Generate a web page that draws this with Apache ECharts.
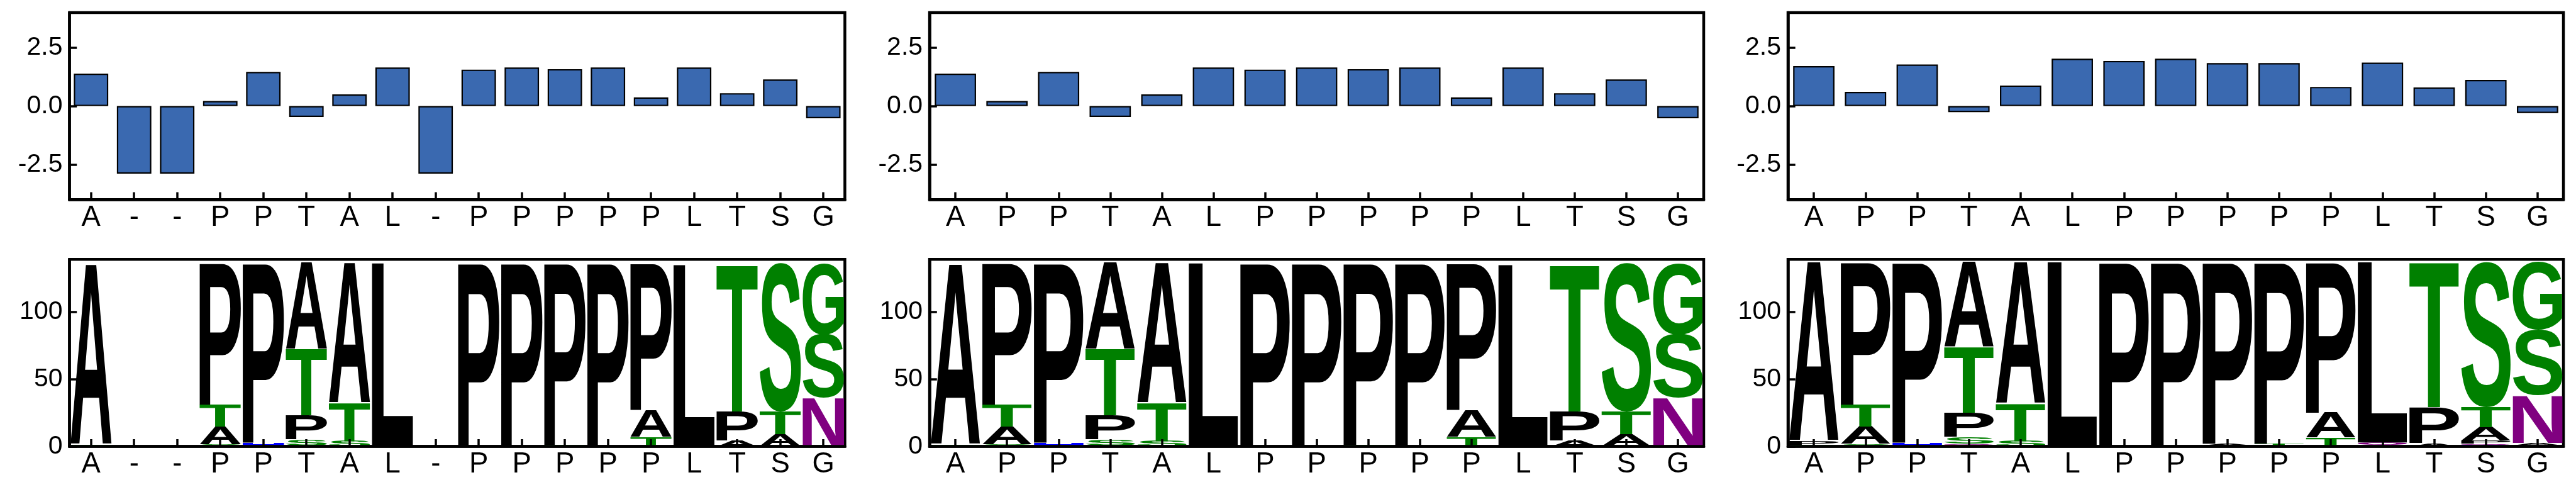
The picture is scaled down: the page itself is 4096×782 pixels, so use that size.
<!DOCTYPE html>
<html><head><meta charset="utf-8">
<script src="https://cdn.jsdelivr.net/npm/echarts@6/dist/echarts.min.js"></script>
<style>html,body{margin:0;padding:0;background:#fff}#c{width:4096px;height:782px}</style>
</head><body><div id="c"></div>
<script>
// ---------------- data ----------------
const catsLeft  = ['A','-','-','P','P','T','A','L','-','P','P','P','P','P','L','T','S','G'];
const catsMid   = ['A','P','P','T','A','L','P','P','P','P','P','L','T','S','G'];
const catsRight = ['A','P','P','T','A','L','P','P','P','P','P','L','T','S','G'];

const barsLeft  = [1.39,-2.89,-2.89,0.22,1.46,-0.47,0.50,1.65,-2.89,1.56,1.65,1.58,1.65,0.37,1.65,0.55,1.14,-0.52];
const barsMid   = [1.39,0.22,1.46,-0.47,0.50,1.65,1.56,1.65,1.58,1.65,0.37,1.65,0.55,1.14,-0.52];
const barsRight = [1.71,0.61,1.78,-0.26,0.88,2.03,1.93,2.03,1.84,1.84,0.82,1.86,0.80,1.12,-0.30];

const barTickValues  = [-2.5, 0, 2.5];
const logoTickValues = [0, 50, 100];

// logo columns: stacks from bottom to top, [letter, height]
const logoLeft = [
  [['T',1.3],['A',133.8]],
  [],
  [],
  [['S',1.5],['A',13.2],['T',16.3],['P',105.5]],
  [['H',2.8],['P',133.7]],
  [['Q',0.8],['S',4.4],['P',17.8],['T',49.2],['A',64.3]],
  [['S',4.0],['T',28.2],['A',104.3]],
  [['V',0.7],['L',135.6]],
  [],
  [['P',136.5]],
  [['P',136.5]],
  [['T',1.2],['P',135.3]],
  [['P',136.5]],
  [['T',7.1],['A',20.0],['P',109.4]],
  [['L',135.1]],
  [['A',4.5],['P',21.5],['T',109.1]],
  [['A',9.1],['T',16.9],['S',110.5]],
  [['N',36.0],['S',47.3],['G',53.2]]
];
const logoMid = [
  [['T',1.3],['A',134.0]],
  [['S',1.5],['A',13.2],['T',16.3],['P',105.5]],
  [['H',2.8],['P',133.7]],
  [['Q',0.8],['S',4.4],['P',17.8],['T',49.2],['A',64.3]],
  [['S',4.0],['T',28.2],['A',104.3]],
  [['V',0.7],['L',135.6]],
  [['P',136.5]],
  [['P',136.5]],
  [['T',1.2],['P',135.3]],
  [['P',136.5]],
  [['T',7.1],['A',20.0],['P',109.4]],
  [['L',135.1]],
  [['A',4.5],['P',21.5],['T',109.1]],
  [['A',9.1],['T',16.9],['S',110.5]],
  [['N',36.0],['S',47.3],['G',53.2]]
];
const logoRight = [
  [['S',1.2],['P',2.8],['A',133.1]],
  [['S',2.0],['A',13.0],['T',16.0],['P',106.1]],
  [['H',2.8],['P',134.3]],
  [['D',1.0],['Q',1.0],['S',5.1],['P',18.0],['T',48.9],['A',63.1]],
  [['S',4.0],['T',27.9],['A',105.2]],
  [['L',137.1]],
  [['P',137.1]],
  [['P',137.1]],
  [['K',0.7],['A',1.3],['P',135.1]],
  [['E',0.7],['T',1.3],['P',135.1]],
  [['T',6.6],['A',18.5],['P',112.0]],
  [['A',0.8],['Q',2.2],['L',134.1]],
  [['A',2.5],['P',26.7],['T',107.9]],
  [['K',1.0],['Q',1.0],['P',2.5],['A',9.9],['T',14.8],['S',107.9]],
  [['T',0.8],['A',2.0],['N',35.2],['S',48.6],['G',50.5]]
];

const letterColors = {G:'#008000',S:'#008000',T:'#008000',Y:'#008000',C:'#008000',
  N:'#800080',Q:'#800080',K:'#0000ff',R:'#0000ff',H:'#0000ff',D:'#ff0000',E:'#ff0000'};

// ---------------- layout / style ----------------
const FONT = '"Liberation Sans", Arial, Helvetica, sans-serif';
const LOGO_FONT = 'bold 200px "Liberation Sans", Arial, sans-serif';
const LETTER_W = 0.96;
const panelsX = [[110.5,1232.9],[1478.1,1230.9],[2843.0,1233.0]];
const topRow = [20.0, 297.2];
const botRow = [412.2, 297.4];
const SPINE = 4.5, TICK_LEN = 11.7, TICK_W = 3.5;

const mctx = document.createElement('canvas').getContext('2d');
mctx.font = LOGO_FONT; mctx.textBaseline = 'middle'; mctx.textAlign = 'left';
const glyphCache = {};
function glyphBox(ch){
  if (!glyphCache[ch]) {
    const m = mctx.measureText(ch);
    glyphCache[ch] = {l: m.actualBoundingBoxLeft, r: m.actualBoundingBoxRight,
                      a: m.actualBoundingBoxAscent, d: m.actualBoundingBoxDescent};
  }
  return glyphCache[ch];
}
function renderLetter(params, api, letters){
  const ch = letters[params.dataIndex];
  const xi = api.value(0), y0 = api.value(1), y1 = api.value(2);
  const pTop = api.coord([xi, y1]), pBot = api.coord([xi, y0]);
  const bw = api.size([1, 0])[0] * LETTER_W;
  const X0 = pTop[0] - bw/2, X1 = pTop[0] + bw/2, Y0 = pTop[1], Y1 = pBot[1];
  if (Y1 - Y0 <= 0) return null;
  const g = glyphBox(ch);
  const sx = (X1 - X0) / (g.l + g.r), sy = (Y1 - Y0) / (g.a + g.d);
  return {type:'text', x: X0 + sx*g.l, y: Y0 + sy*g.a, scaleX: sx, scaleY: sy, silent: true,
    style: {text: ch, font: LOGO_FONT, fill: letterColors[ch] || '#000000',
            align: 'left', verticalAlign: 'middle', textAlign:'left', textVerticalAlign:'middle'}};
}

const grids = [], xAxes = [], yAxes = [], series = [];
const panels = [
  {cats: catsLeft,  bars: barsLeft,  logo: logoLeft},
  {cats: catsMid,   bars: barsMid,   logo: logoMid},
  {cats: catsRight, bars: barsRight, logo: logoRight}
];
function makeX(gi, cats){
  return {gridIndex: gi, type:'category', data: cats, z: 10,
    axisLine: {show: true, onZero: false, lineStyle: {color:'#000', width: SPINE}},
    axisTick: {show: true, inside: true, alignWithLabel: true, length: TICK_LEN, lineStyle: {color:'#000', width: TICK_W}},
    axisLabel: {color:'#000', fontFamily: FONT, fontSize: 45.5, margin: 6, interval: 0},
    splitLine: {show:false}};
}
function makeY(gi, min, max, ticks, fmt){
  return {gridIndex: gi, type:'value', min, max, z: 10,
    axisLine: {show: true, onZero: false, lineStyle: {color:'#000', width: SPINE}},
    axisTick: {show: true, inside: true, length: TICK_LEN, lineStyle: {color:'#000', width: TICK_W}, customValues: ticks},
    axisLabel: {color:'#000', fontFamily: FONT, fontSize: 41, margin: 11, customValues: ticks, formatter: fmt},
    splitLine: {show:false}};
}
panels.forEach((p, i) => {
  const [left, width] = panelsX[i];
  const gTop = 2*i, gBot = 2*i + 1;
  grids.push({left, width, top: topRow[0], height: topRow[1], show: true, borderColor:'#000', borderWidth: SPINE, outerBoundsMode:'none'});
  grids.push({left, width, top: botRow[0], height: botRow[1], show: true, borderColor:'#000', borderWidth: SPINE, outerBoundsMode:'none'});
  xAxes.push(makeX(gTop, p.cats));
  xAxes.push(makeX(gBot, p.cats));
  yAxes.push(makeY(gTop, -4, 4, barTickValues, v => v.toFixed(1)));
  yAxes.push(makeY(gBot, 0, 139, logoTickValues, v => String(Math.round(v))));
  series.push({type:'bar', xAxisIndex: gTop, yAxisIndex: gTop, data: p.bars, barWidth:'80%',
    itemStyle: {color:'#3a69b0', borderColor:'#000', borderWidth: 2.2}});
  const items = [], letters = [];
  p.logo.forEach((col, ci) => {
    let acc = 0;
    col.forEach(([ch, h]) => { items.push([ci, acc, acc + h]); letters.push(ch); acc += h; });
  });
  series.push({type:'custom', xAxisIndex: gBot, yAxisIndex: gBot, data: items,
    encode: {x: 0, y: [1, 2]}, renderItem: (params, api) => renderLetter(params, api, letters)});
});

const chart = echarts.init(document.getElementById('c'), null, {renderer:'canvas'});
chart.setOption({animation: false, backgroundColor:'#fff', grid: grids, xAxis: xAxes, yAxis: yAxes, series});
</script></body></html>
